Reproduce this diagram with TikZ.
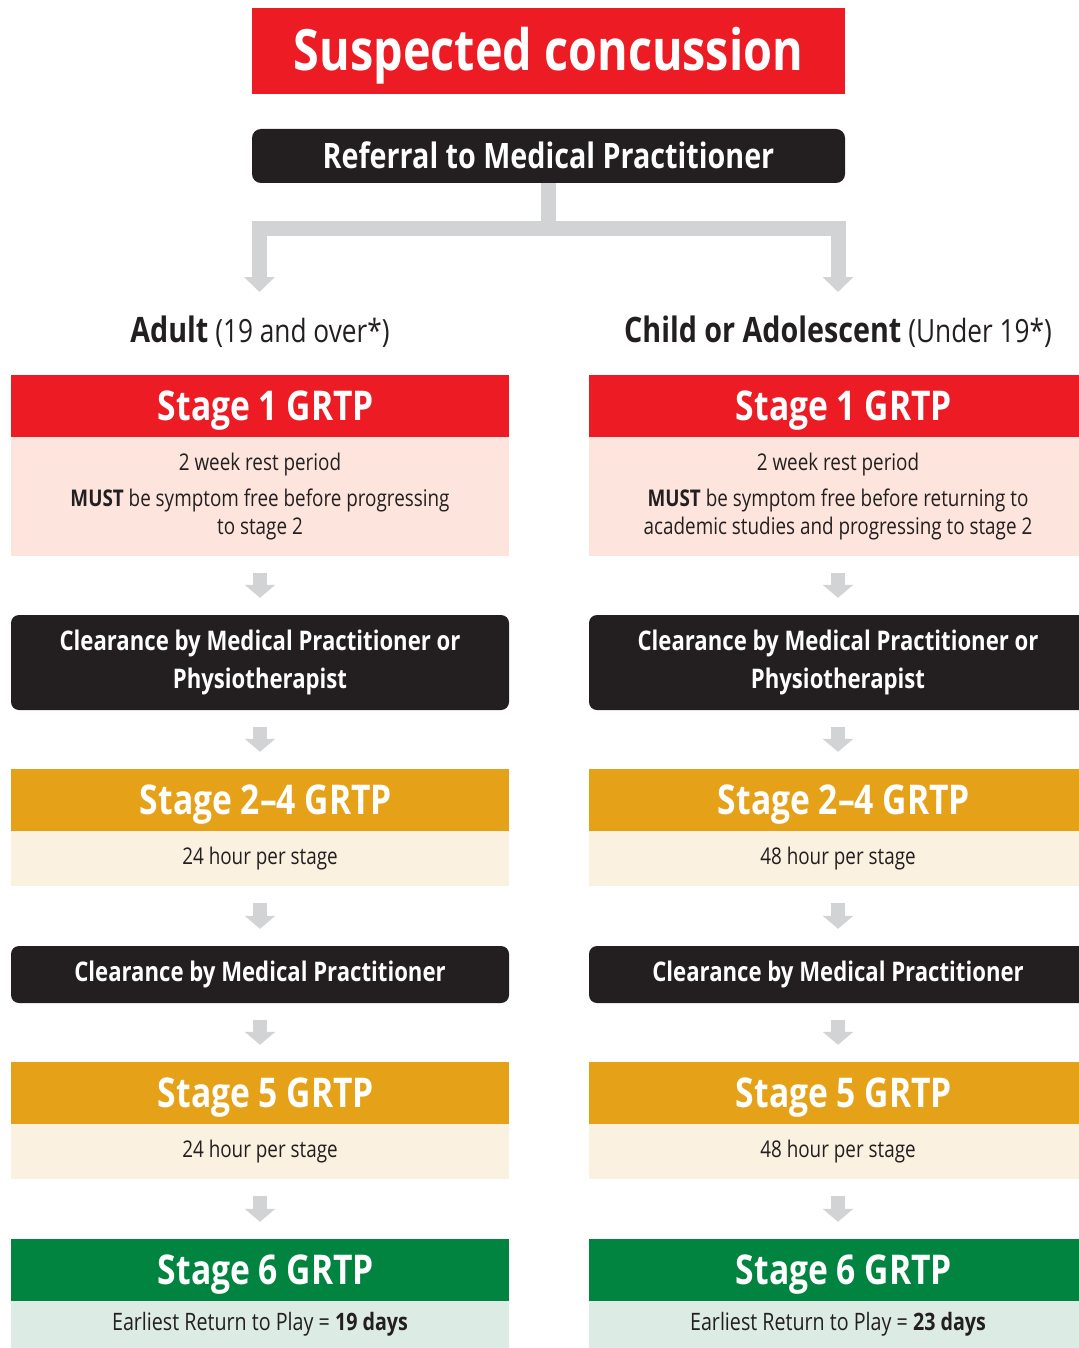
\documentclass[tikz,border=0pt]{standalone}
\usepackage{fontspec}
\setmainfont[FakeStretch=0.82]{Open Sans}
\usetikzlibrary{arrows.meta}
\definecolor{cred}{HTML}{ED1C24}
\definecolor{cblack}{HTML}{231F20}
\definecolor{cgray}{HTML}{D1D3D4}
\definecolor{corange}{HTML}{E5A117}
\definecolor{cgreen}{HTML}{00843F}
\definecolor{cpink}{HTML}{FDE5DD}
\definecolor{ccream}{HTML}{FBF1E1}
\definecolor{clgreen}{HTML}{DCEBE3}
\newcommand{\fs}[2]{\fontsize{#1}{#2}\selectfont}
\begin{document}
\begin{tikzpicture}[x=1pt,y=-1pt,
  box/.style={inner sep=0pt, minimum width=498pt, anchor=center},
  hdr/.style={box, minimum height=62pt, text=white, font=\bfseries\fs{41}{41}, text height=29pt, text depth=0pt, execute at begin node={\hspace*{12pt}}},
  bodybox/.style={box, text=cblack, font=\fs{23}{28}, align=center},
  clr/.style={box, fill=cblack, rounded corners=8pt, text=white, font=\bfseries\fs{27}{38}, align=center},
  garrow/.style={draw=cgray, line width=14pt, -{Triangle[width=30pt,length=13pt]}, shorten <=17pt, shorten >=17pt},
  gconn/.style={draw=cgray, line width=15pt},
  lbl/.style={text=cblack, font=\fs{32}{32}, inner sep=0pt}
]
\useasboundingbox (0,0) rectangle (1078,1348);

% title
\node[fill=cred, minimum width=593pt, minimum height=86pt, inner sep=0pt, text=white, font=\bfseries\fs{57}{57}, text height=40pt, text depth=0pt] (title) at (548.5,51) {Suspected concussion};
\node[fill=cblack, rounded corners=9pt, minimum width=593pt, minimum height=54pt, inner sep=0pt, text=white, font=\bfseries\fs{35}{35}, text height=25pt, text depth=0pt] (ref) at (548.5,156) {Referral to Medical Practitioner};

% split connector
\coordinate (split) at (548.5,229);
\coordinate (tipL) at (259.5,292);
\coordinate (tipR) at (838,292);
\draw[gconn] (ref.south) -- (split);
\draw[gconn, -{Triangle[width=30pt,length=15pt]}] (split) -| (tipL);
\draw[gconn, -{Triangle[width=30pt,length=15pt]}] (split) -| (tipR);

% labels
\node[lbl] (lblL) at (260,332) {{\fs{35}{35}\bfseries Adult} (19 and over*)};
\node[lbl] (lblR) at (838,332) {{\fs{35}{35}\bfseries Child or Adolescent} (Under 19*)};

% ---------- left column
\node[hdr, fill=cred] (h1L) at (260,406) {Stage 1 GRTP};
\node[bodybox, fill=cpink, minimum height=119pt] (b1L) at (260,496.5) {2 week rest period\\[8pt]\textbf{MUST} be symptom free before progressing\\to stage 2};
\node[clr, minimum height=95pt] (c1L) at (260,662.5) {Clearance by Medical Practitioner or\\Physiotherapist};
\node[hdr, fill=corange] (h2L) at (260,800) {Stage 2–4 GRTP};
\node[bodybox, fill=ccream, minimum height=55pt] (b2L) at (260,858.5) {24 hour per stage};
\node[clr, minimum height=57pt] (c2L) at (260,974.5) {Clearance by Medical Practitioner};
\node[hdr, fill=corange] (h3L) at (260,1093) {Stage 5 GRTP};
\node[bodybox, fill=ccream, minimum height=55pt] (b3L) at (260,1151.5) {24 hour per stage};
\node[hdr, fill=cgreen] (h4L) at (260,1270) {Stage 6 GRTP};
\node[bodybox, fill=clgreen, minimum height=47pt, font=\fs{24}{28}] (b4L) at (260,1324.5) {Earliest Return to Play = \textbf{19 days}};

% ---------- right column
\node[hdr, fill=cred] (h1R) at (838,406) {Stage 1 GRTP};
\node[bodybox, fill=cpink, minimum height=119pt] (b1R) at (838,496.5) {2 week rest period\\[8pt]\textbf{MUST} be symptom free before returning to\\academic studies and progressing to stage 2};
\node[clr, minimum height=95pt] (c1R) at (838,662.5) {Clearance by Medical Practitioner or\\Physiotherapist};
\node[hdr, fill=corange] (h2R) at (838,800) {Stage 2–4 GRTP};
\node[bodybox, fill=ccream, minimum height=55pt] (b2R) at (838,858.5) {48 hour per stage};
\node[clr, minimum height=57pt] (c2R) at (838,974.5) {Clearance by Medical Practitioner};
\node[hdr, fill=corange] (h3R) at (838,1093) {Stage 5 GRTP};
\node[bodybox, fill=ccream, minimum height=55pt] (b3R) at (838,1151.5) {48 hour per stage};
\node[hdr, fill=cgreen] (h4R) at (838,1270) {Stage 6 GRTP};
\node[bodybox, fill=clgreen, minimum height=47pt, font=\fs{24}{28}] (b4R) at (838,1324.5) {Earliest Return to Play = \textbf{23 days}};

% small arrows
\foreach \s in {L,R}{
  \draw[garrow] (b1\s.south) -- (c1\s.north);
  \draw[garrow] (c1\s.south) -- (h2\s.north);
  \draw[garrow] (b2\s.south) -- (c2\s.north);
  \draw[garrow] (c2\s.south) -- (h3\s.north);
  \draw[garrow] (b3\s.south) -- (h4\s.north);
}
\end{tikzpicture}
\end{document}
